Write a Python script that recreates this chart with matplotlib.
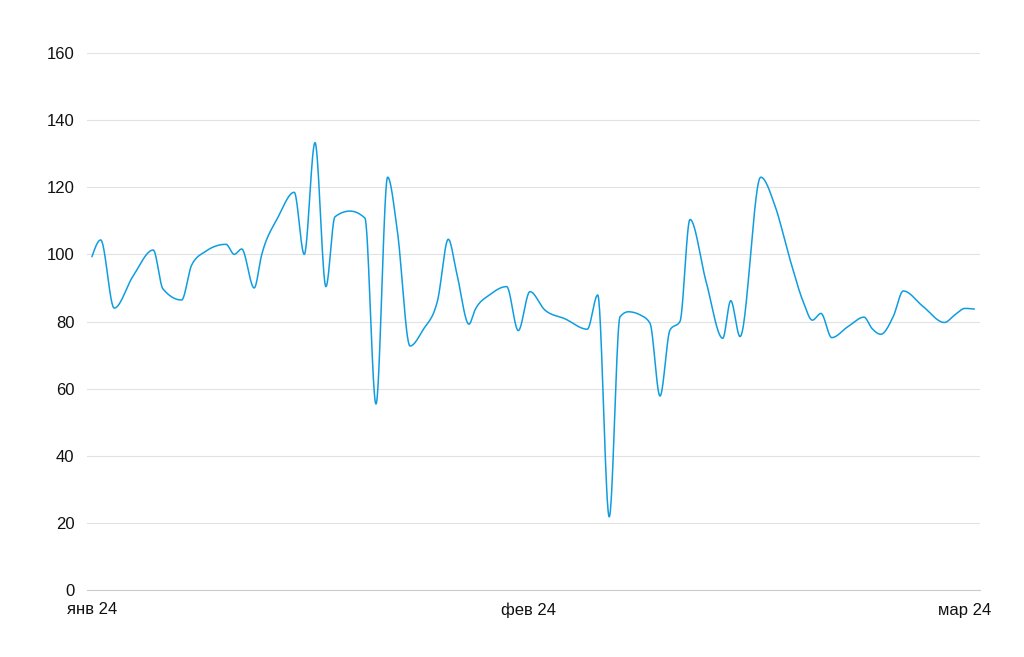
import numpy as np
import matplotlib
matplotlib.use("Agg")
import matplotlib.pyplot as plt

# days since 1 Jan 2024 and values
days = [0.00, 0.60, 1.53, 2.82, 4.21, 4.88, 6.16, 6.85, 7.77, 9.21,
        9.78, 10.29, 11.15, 11.66, 12.78, 13.90, 14.59, 15.33, 16.08, 16.70,
        17.73, 18.76, 19.52, 20.32, 20.98, 21.86, 22.75, 23.76, 24.49, 25.07,
        25.91, 26.32, 27.35, 28.50, 29.30, 30.10, 31.13, 32.51, 34.04, 34.76,
        35.55, 36.29, 36.86, 37.66, 38.35, 39.04, 39.73, 40.41, 41.10, 42.20,
        43.35, 43.90, 44.54, 45.96, 46.94, 47.97, 48.87, 49.51, 50.10, 50.84,
        51.96, 53.06, 53.59, 54.21, 55.07, 55.76, 57.11, 58.58, 59.31, 60.00,
        60.64]
values = [99.3, 104.3, 84.0, 93.5, 101.3, 89.7, 86.4, 96.8, 100.8, 103.0,
          100.0, 101.6, 90.0, 99.8, 111.0, 118.5, 100.0, 133.3, 90.4, 111.2,
          112.9, 110.8, 55.4, 123.0, 107.3, 72.7, 77.5, 86.4, 104.5, 94.4,
          79.2, 83.4, 88.0, 90.4, 77.3, 88.9, 83.4, 80.8, 77.7, 87.9,
          21.8, 81.4, 82.9, 82.0, 79.5, 57.8, 77.5, 80.0, 110.4, 92.0,
          75.0, 86.2, 75.5, 123.0, 114.5, 98.5, 86.0, 80.4, 82.4, 75.2,
          78.5, 81.3, 78.0, 76.2, 81.5, 89.1, 84.5, 79.7, 82.0, 83.9,
          83.7]

tick_days = [0, 30, 60]
tick_labels = ["янв 24", "фев 24", "мар 24"]
y_ticks = [0, 20, 40, 60, 80, 100, 120, 140, 160]


def monotone_curve(x, y, n=30):
    # monotone cubic (same idea as d3 curveMonotoneX)
    x = np.asarray(x, float)
    y = np.asarray(y, float)
    h = np.diff(x)
    s = np.diff(y) / h
    t = np.zeros_like(y)
    for i in range(1, len(x) - 1):
        p = (s[i - 1] * h[i] + s[i] * h[i - 1]) / (h[i - 1] + h[i])
        t[i] = (np.sign(s[i - 1]) + np.sign(s[i])) * min(abs(s[i - 1]), abs(s[i]), 0.5 * abs(p))
    t[0] = (3 * s[0] - t[1]) / 2
    t[-1] = (3 * s[-1] - t[-2]) / 2
    xs, ys = [], []
    for i in range(len(h)):
        u = np.linspace(0, 1, n, endpoint=False)
        h00 = 2 * u**3 - 3 * u**2 + 1
        h10 = u**3 - 2 * u**2 + u
        h01 = -2 * u**3 + 3 * u**2
        h11 = u**3 - u**2
        xs.append(x[i] + u * h[i])
        ys.append(h00 * y[i] + h10 * h[i] * t[i] + h01 * y[i + 1] + h11 * h[i] * t[i + 1])
    xs.append([x[-1]])
    ys.append([y[-1]])
    return np.concatenate(xs), np.concatenate(ys)


plt.rcParams["font.family"] = ["Liberation Sans", "DejaVu Sans"]

fig = plt.figure(figsize=(10.24, 6.57), dpi=100)
ax = fig.add_axes([87 / 1024, 67 / 657, 893 / 1024, 537 / 657])

cx, cy = monotone_curve(days, values)
ax.plot(cx, cy, color="#0f9de0", lw=1.1, solid_capstyle="round")

ax.set_xlim(-0.34, 61.03)
ax.set_ylim(0, 160)
ax.set_yticks(y_ticks)
ax.set_xticks(tick_days)
ax.set_xticklabels(tick_labels)
ax.grid(axis="y", color="#e2e2e2", lw=0.8)
ax.set_axisbelow(True)
for side in ["top", "right", "left"]:
    ax.spines[side].set_visible(False)
ax.spines["bottom"].set_color("#cccccc")
ax.spines["bottom"].set_linewidth(0.8)
ax.tick_params(length=0, labelsize=12, colors="#111111")
ax.tick_params(axis="y", pad=9)
ax.tick_params(axis="x", pad=9)

fig.savefig("out.png", dpi=100)
